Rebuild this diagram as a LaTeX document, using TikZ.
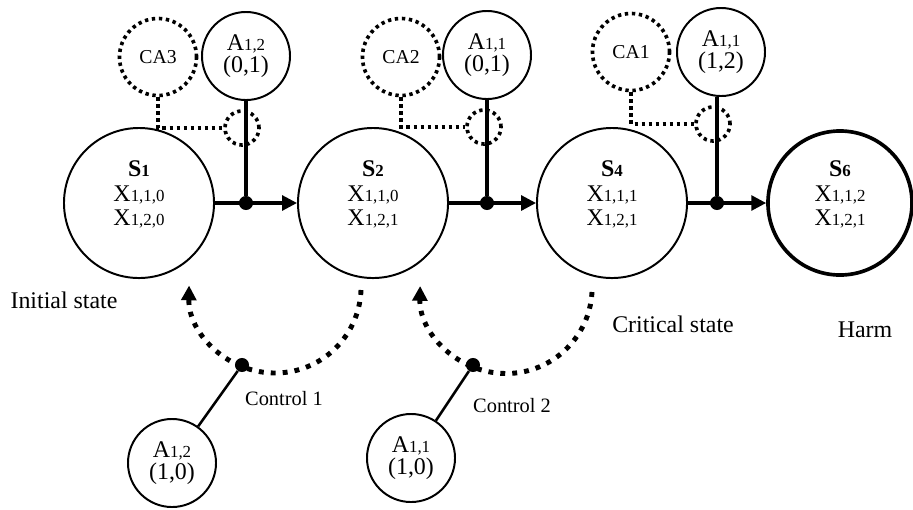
\documentclass[tikz,border=0pt]{standalone}
\usepackage{fontspec}
\setmainfont{Liberation Serif}
\usetikzlibrary{arrows.meta}
% small index digits, set on the baseline
\newcommand{\ix}[1]{{\fontsize{12}{12}\selectfont #1}}

\begin{document}
\begin{tikzpicture}[x=0.025cm,y=-0.025cm,
  state/.style={circle,draw,line width=1.4pt,minimum size=3.75cm,inner sep=0pt,align=center,
    font=\fontsize{17}{17.5}\selectfont,text depth=14pt},
  act/.style={circle,draw,line width=1.4pt,minimum size=2.2cm,inner sep=0pt,align=center,
    font=\fontsize{17}{16}\selectfont},
  dots/.style={line width=2.6pt,dash pattern=on 2.4pt off 2.6pt},
  ca/.style={circle,draw,dots,minimum size=1.925cm,inner sep=0pt,font=\fontsize{14}{14}\selectfont},
  gate/.style={circle,draw,dots,minimum size=0.85cm,inner sep=0pt},
  dot/.style={circle,fill,minimum size=10pt,inner sep=0pt},
  flow/.style={line width=2.2pt},
  ctrl/.style={line width=3.5pt,dash pattern=on 3.5pt off 5pt},
  >={Triangle[length=10.5pt,width=10.5pt]}]
\useasboundingbox (0,0) rectangle (913,509);

% states
\node[state] (S1) at (139,203) {\textbf{S\ix{1}}\\X\ix{1,1,0}\\X\ix{1,2,0}};
\node[state] (S2) at (373,203) {\textbf{S\ix{2}}\\X\ix{1,1,0}\\X\ix{1,2,1}};
\node[state] (S4) at (612,203) {\textbf{S\ix{4}}\\X\ix{1,1,1}\\X\ix{1,2,1}};
\node[state,line width=2.6pt,minimum size=3.6cm] (S6) at (840,203) {\textbf{S\ix{6}}\\X\ix{1,1,2}\\X\ix{1,2,1}};

\node[font=\fontsize{17}{17}\selectfont] (init) at (64,300) {Initial state};
\node[font=\fontsize{17}{17}\selectfont] (crit) at (673,324) {Critical state};
\node[font=\fontsize{17}{17}\selectfont] (harm) at (865,330) {Harm};

% actions on the transitions
\node[act] (A12) at (246,56) {A\ix{1,2}\\(0,1)};
\node[act] (A11) at (487,55) {A\ix{1,1}\\(0,1)};
\node[act] (A11b) at (721,52) {A\ix{1,1}\\(1,2)};

\node[ca] (CA3) at (158,57) {CA3};
\node[ca] (CA2) at (401,57) {CA2};
\node[ca] (CA1) at (631,52) {CA1};

\node[gate] (g1) at (242,128) {};
\node[gate] (g2) at (484,127) {};
\node[gate] (g3) at (713,124) {};

\draw[dots] (CA3) |- (g1);
\draw[dots] (CA2) |- (g2);
\draw[dots] (CA1) |- (g3);

\node[dot] (j1) at (246,203) {};
\node[dot] (j2) at (487,203) {};
\node[dot] (j3) at (717,203) {};

\draw[flow,->] (S1) -- (S2);
\draw[flow,->] (S2) -- (S4);
\draw[flow,->] (S4) -- (S6);
\draw[flow] (A12) -- (j1);
\draw[flow] (A11) -- (j2);
\draw[flow] (A11b.south -| j3) -- (j3);

% controls
\coordinate (r1) at (361,290);
\coordinate (r2) at (592,292);
\draw[ctrl,->] (r1) arc[start angle=2,end angle=181,radius=86];
\draw[ctrl,->] (r2) arc[start angle=3,end angle=181,radius=86];

\node[dot] (c1) at (242,365) {};
\node[dot] (c2) at (473,365) {};

\node[act] (A12c) at (172,463) {A\ix{1,2}\\(1,0)};
\node[act] (A11c) at (411,458) {A\ix{1,1}\\(1,0)};

\draw[line width=1.8pt] (A12c) -- (c1);
\draw[line width=1.8pt] (A11c) -- (c2);

\node[font=\fontsize{14.5}{14.5}\selectfont] (ctl1) at (284,399) {Control 1};
\node[font=\fontsize{14.5}{14.5}\selectfont] (ctl2) at (512,406) {Control 2};
\end{tikzpicture}
\end{document}
